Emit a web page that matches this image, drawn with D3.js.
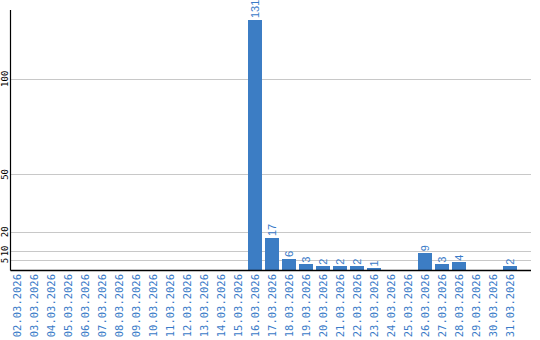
<!DOCTYPE html>
<html lang="en">
  <head>
    <meta charset="UTF-8" />
    <title>Daily counts, March 2026</title>
    <script src="https://d3js.org/d3.v7.min.js"></script>
    <style>
      body { margin: 0; background: #fff; }
      .grid line { stroke: #c8c8c8; stroke-width: 1px; }
      .xlabels text { font-family: "DejaVu Sans Mono", monospace; font-size: 10.5px; fill: #3a7bc8; }
      .ylabels text { font-family: "DejaVu Sans Mono", monospace; font-size: 9px; fill: #000; }
      .values text { font-family: "Liberation Sans", Arial, sans-serif; font-size: 11px; fill: #3a7bc8; }
    </style>
  </head>
  <body>
    <div id="chart"></div>
    <script>
      const dates = [
        "02.03.2026", "03.03.2026", "04.03.2026", "05.03.2026", "06.03.2026",
        "07.03.2026", "08.03.2026", "09.03.2026", "10.03.2026", "11.03.2026",
        "12.03.2026", "13.03.2026", "14.03.2026", "15.03.2026", "16.03.2026",
        "17.03.2026", "18.03.2026", "19.03.2026", "20.03.2026", "21.03.2026",
        "22.03.2026", "23.03.2026", "24.03.2026", "25.03.2026", "26.03.2026",
        "27.03.2026", "28.03.2026", "29.03.2026", "30.03.2026", "31.03.2026"
      ];
      const counts = [
        0, 0, 0, 0, 0, 0, 0, 0, 0, 0, 0, 0, 0, 0, 131,
        17, 6, 3, 2, 2, 2, 1, 0, 0, 9, 3, 4, 0, 0, 2
      ];
      const yTicks = [5, 10, 20, 50, 100];

      const width = 540, height = 340;
      const plotLeft = 10.5, plotRight = 531, plotTop = 10, plotBottom = 270;

      const svg = d3.select("#chart").append("svg")
        .attr("width", width).attr("height", height);

      const x = d3.scaleBand().domain(dates).range([8.5, 518.5]).paddingInner(3 / 17).paddingOuter(1.5 / 17);
      const y = d3.scaleLinear().domain([0, 136]).range([plotBottom, plotTop]);

      const rows = dates.map((d, i) => ({ date: d, v: counts[i] })).filter(d => d.v > 0);

      // grid lines
      svg.append("g").attr("class", "grid")
        .selectAll("line").data(yTicks).join("line")
        .attr("x1", plotLeft).attr("x2", plotRight)
        .attr("y1", d => Math.round(y(d)) + 0.5).attr("y2", d => Math.round(y(d)) + 0.5);

      // bars
      svg.append("g").selectAll("rect")
        .data(rows)
        .join("rect")
        .attr("x", d => Math.round(x(d.date)))
        .attr("width", Math.round(x.bandwidth()))
        .attr("y", d => Math.round(y(d.v)))
        .attr("height", d => plotBottom - Math.round(y(d.v)))
        .attr("fill", "#3c7dc4");

      // value labels
      svg.append("g").attr("class", "values")
        .selectAll("text")
        .data(rows)
        .join("text")
        .attr("transform", d => `translate(${x(d.date) + x.bandwidth() / 2 + 4},${y(d.v) - 1.5}) rotate(-90)`)
        .text(d => d.v);

      // axis lines
      svg.append("line").attr("x1", plotLeft).attr("x2", plotLeft).attr("y1", plotTop).attr("y2", plotBottom + 0.5)
        .attr("stroke", "#000").attr("stroke-width", 1.2);
      svg.append("line").attr("x1", plotLeft).attr("x2", plotRight).attr("y1", plotBottom + 0.5).attr("y2", plotBottom + 0.5)
        .attr("stroke", "#000").attr("stroke-width", 1.6);

      // y tick labels
      svg.append("g").attr("class", "ylabels")
        .selectAll("text").data(yTicks).join("text")
        .attr("text-anchor", "middle")
        .attr("transform", d => `translate(7.5,${y(d)}) rotate(-90)`)
        .text(d => d);

      // x labels
      svg.append("g").attr("class", "xlabels")
        .selectAll("text").data(dates).join("text")
        .attr("text-anchor", "end")
        .attr("transform", d => `translate(${x(d) + x.bandwidth() / 2 + 4},274) rotate(-90)`)
        .text(d => d);
    </script>
  </body>
</html>
